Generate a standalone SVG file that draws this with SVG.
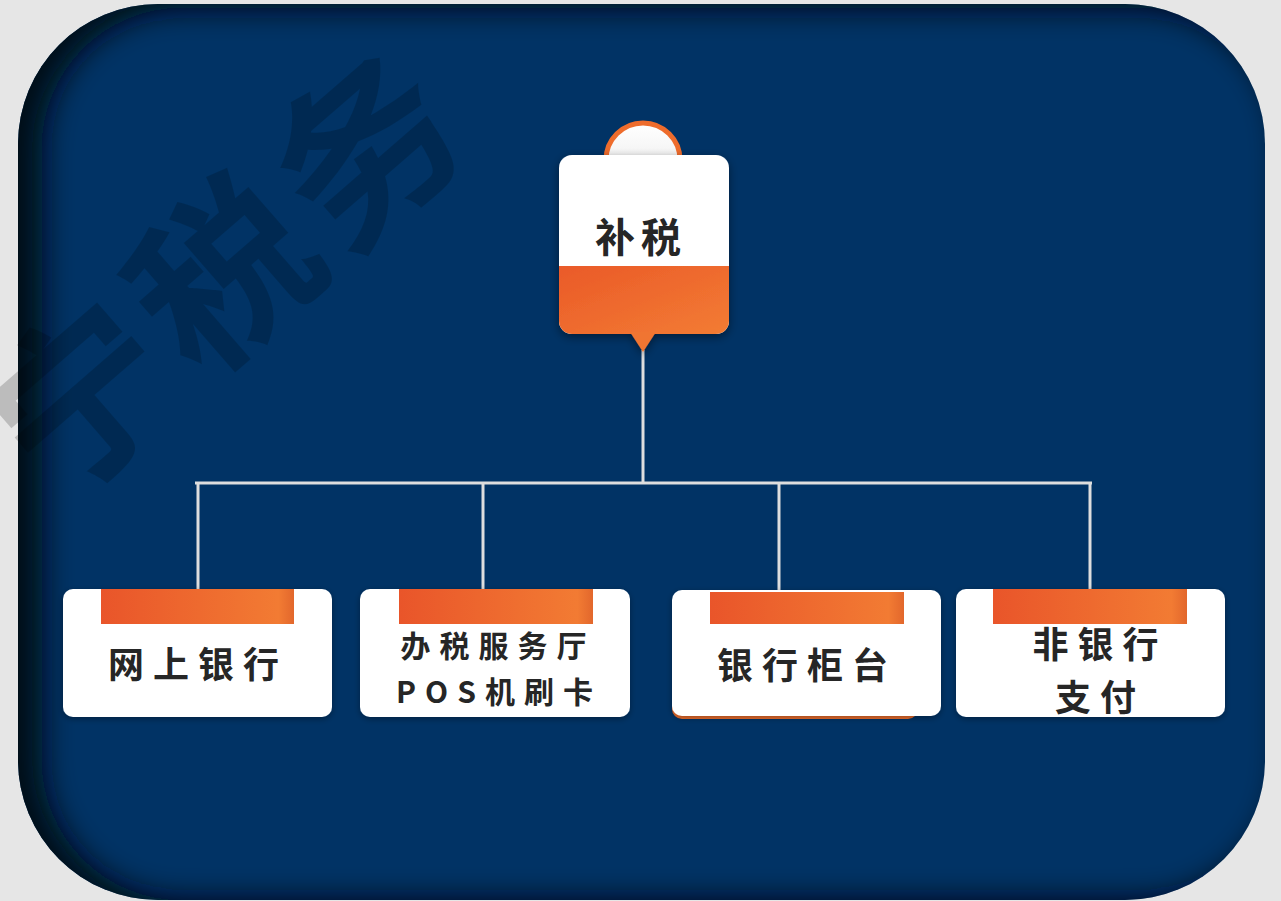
<svg xmlns="http://www.w3.org/2000/svg" width="1281" height="901" viewBox="0 0 1281 901">
<defs>
  <style>
    .lbl{font-family:"Noto Sans CJK SC","Noto Sans",sans-serif;font-weight:700;fill:#262626;text-anchor:middle}
    .card{fill:#ffffff}
    .conn{stroke:#dedede;stroke-width:3;fill:none}
  </style>
  <linearGradient id="org" x1="0" y1="0" x2="1" y2="0">
    <stop offset="0" stop-color="#e9552a"/>
    <stop offset="0.92" stop-color="#f27b33"/>
    <stop offset="1" stop-color="#e2672c"/>
  </linearGradient>
  <linearGradient id="org2" x1="0" y1="0" x2="1" y2="1">
    <stop offset="0" stop-color="#ea5a29"/>
    <stop offset="1" stop-color="#f37c33"/>
  </linearGradient>
  <linearGradient id="ball" x1="0" y1="0" x2="0" y2="1">
    <stop offset="0" stop-color="#ffffff"/>
    <stop offset="0.5" stop-color="#f2f2f2"/>
    <stop offset="1" stop-color="#cfcfcf"/>
  </linearGradient>
  <filter id="blur" x="-20%" y="-20%" width="140%" height="140%">
    <feGaussianBlur stdDeviation="15"/>
  </filter>
  <filter id="ds" x="-20%" y="-20%" width="140%" height="140%">
    <feDropShadow dx="0" dy="3" stdDeviation="5" flood-color="#000" flood-opacity="0.45"/>
  </filter>
  <filter id="ds2" x="-10%" y="-10%" width="120%" height="130%">
    <feDropShadow dx="0" dy="2" stdDeviation="3" flood-color="#000" flood-opacity="0.35"/>
  </filter>
  <clipPath id="panelclip"><rect x="18" y="4" width="1247" height="896" rx="140"/></clipPath>
  <clipPath id="topclip"><rect x="559" y="155" width="170" height="179" rx="13"/></clipPath>
</defs>

<rect width="1281" height="901" fill="#e6e6e6"/>
<g id="panel">
  <rect x="18" y="4" width="1247" height="896" rx="140" fill="#013365"/>
  <g clip-path="url(#panelclip)">
    <path filter="url(#blur)" fill="#000814" fill-opacity="1" fill-rule="evenodd" d="M-150,-150 H1450 V1050 H-150 Z M182,8 H1141 A140,140 0 0 1 1281,148 V760 A140,140 0 0 1 1141,900 H182 A140,140 0 0 1 42,760 V148 A140,140 0 0 1 182,8 Z"/>
  </g>
</g>

<text x="0" y="0" transform="translate(220,262) rotate(-41)" font-family="'Noto Sans CJK SC',sans-serif" font-weight="700" font-size="178" letter-spacing="10" text-anchor="middle" dominant-baseline="central" fill="#000" fill-opacity="0.18">宁税务</text>

<g id="connectors">
  <line class="conn" x1="643" y1="350" x2="643" y2="483"/>
  <line class="conn" x1="195" y1="483" x2="1092" y2="483"/>
  <line class="conn" x1="198" y1="483" x2="198" y2="590"/>
  <line class="conn" x1="483" y1="483" x2="483" y2="590"/>
  <line class="conn" x1="779" y1="483" x2="779" y2="592"/>
  <line class="conn" x1="1090" y1="483" x2="1090" y2="590"/>
</g>

<g id="node-top">
  <circle cx="643" cy="160" r="37" fill="url(#ball)" stroke="#ee6c2c" stroke-width="5"/>
  <g filter="url(#ds)">
    <g clip-path="url(#topclip)">
      <rect x="559" y="155" width="170" height="179" fill="#ffffff"/>
      <rect x="559" y="266" width="170" height="68" fill="url(#org2)"/>
    </g>
    <polygon points="630,332 656,332 643,352" fill="#f07430"/>
  </g>
  <text class="lbl" x="641" y="252" font-size="40" letter-spacing="6">补税</text>
</g>

<g id="node-1">
  <rect class="card" x="63" y="589" width="269" height="128" rx="10" filter="url(#ds2)"/>
  <rect x="101" y="589" width="193" height="35" fill="url(#org)"/>
  <text class="lbl" x="198" y="678" font-size="36" letter-spacing="9">网上银行</text>
</g>

<g id="node-2">
  <rect class="card" x="360" y="589" width="270" height="128" rx="10" filter="url(#ds2)"/>
  <rect x="399" y="589" width="194" height="35" fill="url(#org)"/>
  <text class="lbl" x="498" y="657" font-size="30" letter-spacing="9">办税服务厅</text>
  <text class="lbl" x="499" y="703" font-size="30" letter-spacing="9">POS机刷卡</text>
</g>

<g id="node-3">
  <rect x="672" y="600" width="246" height="119" rx="10" fill="#ec6e2d"/>
  <rect class="card" x="672" y="590" width="269" height="126" rx="10" filter="url(#ds2)"/>
  <rect x="710" y="592" width="194" height="32" fill="url(#org)"/>
  <text class="lbl" x="807" y="679" font-size="36" letter-spacing="9">银行柜台</text>
</g>

<g id="node-4">
  <rect class="card" x="956" y="589" width="269" height="128" rx="10" filter="url(#ds2)"/>
  <rect x="993" y="589" width="194" height="35" fill="url(#org)"/>
  <text class="lbl" x="1100" y="658" font-size="36" letter-spacing="9">非银行</text>
  <text class="lbl" x="1100" y="711" font-size="36" letter-spacing="9">支付</text>
</g>
</svg>
